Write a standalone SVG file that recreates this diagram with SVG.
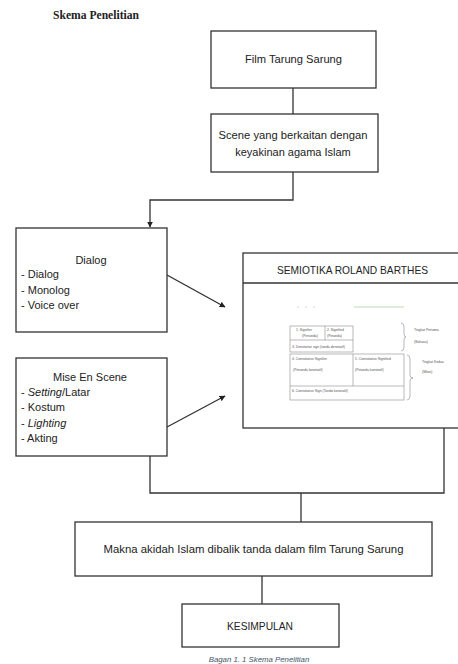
<svg xmlns="http://www.w3.org/2000/svg" width="458" height="664" viewBox="0 0 458 664">
<style>
.box{fill:#fff;stroke:#333;stroke-width:1.3}
.ln{fill:none;stroke:#333;stroke-width:1.3}
.t{font-family:"Liberation Sans",Arial,sans-serif;font-size:11px;fill:#222}
.c{text-anchor:middle}
.it{font-style:italic}
.tb{fill:none;stroke:#8a8a8a;stroke-width:0.6}
.s{font-family:"Liberation Sans",Arial,sans-serif;font-size:3.4px;fill:#555}
</style>
<defs>
<marker id="ah" viewBox="0 0 10 10" refX="9" refY="5" markerWidth="6" markerHeight="6" markerUnits="userSpaceOnUse" orient="auto">
<path d="M0,0 L10,5 L0,10 z" fill="#222"/>
</marker>
</defs>
<rect width="458" height="664" fill="#fff"/>
<text x="53" y="19" font-family="'Liberation Serif',serif" font-size="12" font-weight="bold" fill="#222" textLength="86" lengthAdjust="spacingAndGlyphs">Skema Penelitian</text>

<g id="connectors">
<line class="ln" x1="293" y1="88" x2="293" y2="114"/>
<polyline class="ln" points="293,172 293,200 150,200 150,227" marker-end="url(#ah)"/>
<line class="ln" x1="167" y1="275" x2="225" y2="307" marker-end="url(#ah)"/>
<line class="ln" x1="167" y1="427" x2="225" y2="396" marker-end="url(#ah)"/>
<polyline class="ln" points="150,456 150,493 444,493 444,428"/>
<line class="ln" x1="301" y1="493" x2="301" y2="522"/>
<line class="ln" x1="262" y1="576" x2="262" y2="604"/>
</g>

<g id="film">
<rect class="box" x="211" y="31" width="165" height="57"/>
<text class="t c" x="293.5" y="63" textLength="97" lengthAdjust="spacingAndGlyphs">Film Tarung Sarung</text>
</g>

<g id="scene">
<rect class="box" x="211" y="114" width="167" height="58"/>
<text class="t c" x="293" y="139" textLength="149" lengthAdjust="spacingAndGlyphs">Scene yang berkaitan dengan</text>
<text class="t c" x="293" y="156">keyakinan agama Islam</text>
</g>

<g id="dialog">
<rect class="box" x="16" y="228" width="151" height="104"/>
<text class="t c" x="91" y="263.5">Dialog</text>
<text class="t" x="21" y="278">- Dialog</text>
<text class="t" x="21" y="294">- Monolog</text>
<text class="t" x="21" y="309">- Voice over</text>
</g>

<g id="mise">
<rect class="box" x="16" y="358" width="151" height="98"/>
<text class="t c" x="90" y="381">Mise En Scene</text>
<text class="t" x="21" y="395.5">- <tspan class="it">Setting</tspan>/Latar</text>
<text class="t" x="21" y="411">- Kostum</text>
<text class="t" x="21" y="426.5">- <tspan class="it">Lighting</tspan></text>
<text class="t" x="21" y="442">- Akting</text>
</g>

<g id="semiotika">
<rect class="box" x="243" y="253" width="220" height="175"/>
<line class="ln" x1="243" y1="283" x2="460" y2="283"/>
<text class="t c" x="352.5" y="274" font-size="12" textLength="151" lengthAdjust="spacingAndGlyphs">SEMIOTIKA ROLAND BARTHES</text>
<circle cx="298" cy="307" r="0.6" fill="#999"/>
<circle cx="306" cy="307" r="0.6" fill="#999"/>
<circle cx="314" cy="307" r="0.6" fill="#999"/>
<line x1="354" y1="307" x2="404" y2="307" stroke="#a8d49a" stroke-width="0.8"/>
<rect class="tb" x="290" y="326" width="63" height="26"/>
<line class="tb" x1="325" y1="326" x2="325" y2="340"/>
<line class="tb" x1="290" y1="340" x2="353" y2="340"/>
<rect class="tb" x="290" y="354" width="114" height="46"/>
<line class="tb" x1="353" y1="354" x2="353" y2="386"/>
<line class="tb" x1="290" y1="386" x2="404" y2="386"/>
<path class="tb" d="M401,323 Q404,323 404,327 L404,334 Q404,337 406,337 Q404,337 404,340 L404,347 Q404,351 401,351"/>
<path class="tb" d="M407,355 Q410,355 410,359 L410,375 Q410,378 413,378 Q410,378 410,381 L410,396 Q410,400 407,400"/>
<text class="s" x="296" y="330.5">1.  Signifier</text>
<text class="s" x="302" y="337">(Penanda)</text>
<text class="s" x="327" y="330.5">2. Signified</text>
<text class="s" x="327" y="337">(Petanda)</text>
<text class="s" x="292" y="348">3. Denotative sign (tanda denotatif)</text>
<text class="s" x="292" y="360">4. Connotative Signifier</text>
<text class="s" x="293" y="371">(Penanda konotatif)</text>
<text class="s" x="355" y="360">5. Connotative Signified</text>
<text class="s" x="355" y="371">(Petanda konotatif)</text>
<text class="s" x="292" y="392">6. Connotative Sign (Tanda konotatif)</text>
<text class="s" x="414" y="331">Tingkat Pertama</text>
<text class="s" x="414" y="343">(Bahasa)</text>
<text class="s" x="422" y="363">Tingkat Kedua</text>
<text class="s" x="422" y="373">(Mitos)</text>
</g>

<g id="makna">
<rect class="box" x="75" y="522" width="357" height="54"/>
<text class="t c" x="253.5" y="553" textLength="300" lengthAdjust="spacingAndGlyphs">Makna akidah Islam dibalik tanda dalam film Tarung Sarung</text>
</g>

<g id="kesimpulan">
<rect class="box" x="182" y="604" width="157" height="43"/>
<text class="t c" x="260" y="629.5" textLength="66" lengthAdjust="spacingAndGlyphs">KESIMPULAN</text>
</g>

<text x="259" y="662" text-anchor="middle" font-family="'Liberation Sans',Arial,sans-serif" font-size="7.8" font-style="italic" fill="#44546a">Bagan 1. 1 Skema Penelitian</text>
</svg>
